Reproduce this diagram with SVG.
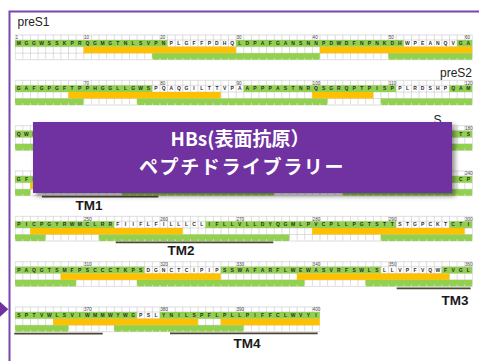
<svg xmlns="http://www.w3.org/2000/svg" width="479" height="361" viewBox="0 0 479 361">
<defs>
<pattern id="vg" x="14.7" y="0" width="7.62" height="30" patternUnits="userSpaceOnUse"><rect width="0.6" height="30" fill="#c8c8c8"/></pattern>
<pattern id="tk" x="14.7" y="0" width="7.62" height="30" patternUnits="userSpaceOnUse"><rect width="0.7" height="30" fill="#eef5e4"/></pattern>
<filter id="sh" x="-5%" y="-10%" width="115%" height="130%"><feDropShadow dx="3" dy="3" stdDeviation="2.5" flood-color="#000" flood-opacity="0.45"/></filter>
</defs>
<style>
.grid{fill:url(#vg)}
.hl{stroke:#c8c8c8;stroke-width:0.6;fill:none}
.g{fill:#92D050}
.o{fill:#FFC000}
.tk{fill:url(#tk)}
.res{font-family:"Liberation Sans",Arial,sans-serif;font-size:5px;font-weight:bold;fill:#2e2e2e;text-anchor:middle}
.num{font-family:"Liberation Sans",Arial,sans-serif;font-size:4.6px;fill:#444}
.lbl{font-family:"Liberation Sans",Arial,sans-serif;font-size:12px;fill:#222}
.tm{font-family:"Liberation Sans",Arial,sans-serif;font-size:13.5px;font-weight:bold;fill:#1a1a1a;text-anchor:middle}
.tml{stroke:#4a4535;stroke-width:1.6;fill:none}
.ban{font-family:"Noto Sans CJK JP","Noto Sans",sans-serif;font-weight:bold;fill:#fff;text-anchor:middle;font-size:19px}
</style>
<rect width="479" height="361" fill="#fff"/>
<path d="M9.5 361V11.5H479" stroke="#7a45ad" stroke-width="2" fill="none"/>
<polygon points="0,301.7 8.3,309.2 0,316.7" fill="#7030A0"/>

<g id="row1" transform="translate(0,35)">
<rect class="grid" x="14.7" width="458.1" height="24.7"/>
<path class="hl" d="M15 0H472.2M15 5H472.2M15 11.7H472.2M15 18.2H472.2M15 24.7H472.2"/>
<rect class="g" x="15" y="5" width="152.4" height="6.7"/><rect class="g" x="235.98" y="5" width="167.64" height="6.7"/><rect class="g" x="456.96" y="5" width="15.24" height="6.7"/>
<rect class="o" x="83.58" y="11.7" width="152.4" height="6.5"/><rect class="o" x="319.8" y="11.7" width="152.4" height="6.5"/>
<rect class="g" x="152.16" y="18.2" width="167.64" height="6.5"/><rect class="g" x="388.38" y="18.2" width="83.82" height="6.5"/>
<rect class="tk" x="14.7" y="23" width="458.1" height="1.7"/>
<text class="res" y="10.2" x="18.81 26.43 34.05 41.67 49.29 56.91 64.53 72.15 79.77 87.39 95.01 102.63 110.25 117.87 125.49 133.11 140.73 148.35 155.97 163.59 171.21 178.83 186.45 194.07 201.69 209.31 216.93 224.55 232.17 239.79 247.41 255.03 262.65 270.27 277.89 285.51 293.13 300.75 308.37 315.99 323.61 331.23 338.85 346.47 354.09 361.71 369.33 376.95 384.57 392.19 399.81 407.43 415.05 422.67 430.29 437.91 445.53 453.15 460.77 468.39">MGGWSSKPRQGMGTNLSVPNPLGFFPDHQLDPAFGANSNNPDWDFNPNKDHWPEANQVGA</text>
<text class="num" y="4.3"><tspan x="15.6">1</tspan><tspan x="84">10</tspan><tspan x="160.2">20</tspan><tspan x="236.4">30</tspan><tspan x="312.6">40</tspan><tspan x="388.8">50</tspan><tspan x="465">60</tspan></text>
</g>

<g id="row2" transform="translate(0,80.3)">
<rect class="grid" x="14.7" width="458.1" height="24.7"/>
<path class="hl" d="M15 0H472.2M15 5H472.2M15 11.7H472.2M15 18.2H472.2M15 24.7H472.2"/>
<rect class="g" x="15" y="5" width="137.16" height="6.7"/><rect class="g" x="243.6" y="5" width="152.4" height="6.7"/><rect class="g" x="449.34" y="5" width="22.86" height="6.7"/>
<rect class="o" x="68.34" y="11.7" width="152.4" height="6.5"/><rect class="o" x="312.18" y="11.7" width="60.96" height="6.5"/>
<rect class="g" x="15" y="18.2" width="68.58" height="6.5"/><rect class="g" x="136.92" y="18.2" width="190.5" height="6.5"/><rect class="g" x="380.76" y="18.2" width="91.44" height="6.5"/>
<rect class="tk" x="14.7" y="23" width="458.1" height="1.7"/>
<text class="res" y="10.2" x="18.81 26.43 34.05 41.67 49.29 56.91 64.53 72.15 79.77 87.39 95.01 102.63 110.25 117.87 125.49 133.11 140.73 148.35 155.97 163.59 171.21 178.83 186.45 194.07 201.69 209.31 216.93 224.55 232.17 239.79 247.41 255.03 262.65 270.27 277.89 285.51 293.13 300.75 308.37 315.99 323.61 331.23 338.85 346.47 354.09 361.71 369.33 376.95 384.57 392.19 399.81 407.43 415.05 422.67 430.29 437.91 445.53 453.15 460.77 468.39">GAFGPGFTPPHGGLLGWSPQAQGILTTVPAAPPPASTNRQSGRQPTPISPPLRDSHPQAM</text>
<text class="num" y="4.3"><tspan x="84">70</tspan><tspan x="160.2">80</tspan><tspan x="236.4">90</tspan><tspan x="312.6">100</tspan><tspan x="388.8">110</tspan><tspan x="465">120</tspan></text>
</g>

<g id="row3" transform="translate(0,125.7)">
<rect class="grid" x="14.7" width="458.1" height="24.7"/>
<path class="hl" d="M15 0H472.2M15 5H472.2M15 11.7H472.2M15 18.2H472.2M15 24.7H472.2"/>
<rect class="g" x="15" y="5" width="91.44" height="6.7"/><rect class="g" x="388.38" y="5" width="83.82" height="6.7"/>
<rect class="o" x="159.78" y="11.7" width="198.12" height="6.5"/>
<rect class="g" x="15" y="18.2" width="76.2" height="6.5"/><rect class="g" x="235.98" y="18.2" width="236.22" height="6.5"/>
<rect class="tk" x="14.7" y="23" width="458.1" height="1.7"/>
<text class="res" y="10.2" x="18.81 26.43 34.05">QWN</text>
<text class="res" y="10.2" x="460.77 468.39">TS</text>
<text class="num" y="4.3" x="465">180</text>
</g>

<g id="row4" transform="translate(0,171)">
<rect class="grid" x="14.7" width="458.1" height="24.7"/>
<path class="hl" d="M15 0H472.2M15 5H472.2M15 11.7H472.2M15 18.2H472.2M15 24.7H472.2"/>
<rect class="g" x="15" y="5" width="167.64" height="6.7"/><rect class="g" x="243.6" y="5" width="228.6" height="6.7"/>
<rect class="o" x="30.24" y="11.7" width="152.4" height="6.5"/><rect class="o" x="258.84" y="11.7" width="152.4" height="6.5"/>
<rect class="g" x="15" y="18.2" width="15.24" height="6.5"/><rect class="g" x="121.68" y="18.2" width="152.4" height="6.5"/><rect class="g" x="342.66" y="18.2" width="129.54" height="6.5"/>
<rect class="tk" x="14.7" y="23" width="458.1" height="1.7"/>
<text class="res" y="10.2" x="18.81 26.43 34.05">GFL</text>
<text class="res" y="10.2" x="460.77 468.39">CP</text>
<text class="num" y="4.3" x="465">240</text>
</g>

<g id="row5" transform="translate(0,216.3)">
<rect class="grid" x="14.7" width="458.1" height="24.7"/>
<path class="hl" d="M15 0H472.2M15 5H472.2M15 11.7H472.2M15 18.2H472.2M15 24.7H472.2"/>
<rect class="g" x="15" y="5" width="99.06" height="6.7"/><rect class="g" x="205.5" y="5" width="190.5" height="6.7"/><rect class="g" x="449.34" y="5" width="22.86" height="6.7"/>
<rect class="o" x="30.24" y="11.7" width="152.4" height="6.5"/><rect class="o" x="312.18" y="11.7" width="152.4" height="6.5"/>
<rect class="g" x="15" y="18.2" width="30.48" height="6.5"/><rect class="g" x="98.82" y="18.2" width="190.5" height="6.5"/><rect class="g" x="380.76" y="18.2" width="91.44" height="6.5"/>
<rect class="tk" x="14.7" y="23" width="458.1" height="1.7"/>
<text class="res" y="10.2" x="18.81 26.43 34.05 41.67 49.29 56.91 64.53 72.15 79.77 87.39 95.01 102.63 110.25 117.87 125.49 133.11 140.73 148.35 155.97 163.59 171.21 178.83 186.45 194.07 201.69 209.31 216.93 224.55 232.17 239.79 247.41 255.03 262.65 270.27 277.89 285.51 293.13 300.75 308.37 315.99 323.61 331.23 338.85 346.47 354.09 361.71 369.33 376.95 384.57 392.19 399.81 407.43 415.05 422.67 430.29 437.91 445.53 453.15 460.77 468.39">PICPGYRWMCLRRFIIFLFILLLCLIFLLVLLDYQGMLPVCPLLPGTSTTSTGPCKTCTI</text>
<text class="num" y="4.3"><tspan x="84">250</tspan><tspan x="160.2">260</tspan><tspan x="236.4">270</tspan><tspan x="312.6">280</tspan><tspan x="388.8">290</tspan><tspan x="465">300</tspan></text>
</g>

<g id="row6" transform="translate(0,261.7)">
<rect class="grid" x="14.7" width="458.1" height="24.7"/>
<path class="hl" d="M15 0H472.2M15 5H472.2M15 11.7H472.2M15 18.2H472.2M15 24.7H472.2"/>
<rect class="g" x="15" y="5" width="129.54" height="6.7"/><rect class="g" x="220.74" y="5" width="160.02" height="6.7"/><rect class="g" x="441.72" y="5" width="30.48" height="6.7"/>
<rect class="o" x="60.72" y="11.7" width="160.02" height="6.5"/><rect class="o" x="296.94" y="11.7" width="152.4" height="6.5"/>
<rect class="g" x="15" y="18.2" width="60.96" height="6.5"/><rect class="g" x="136.92" y="18.2" width="167.64" height="6.5"/><rect class="g" x="365.52" y="18.2" width="106.68" height="6.5"/>
<rect class="tk" x="14.7" y="23" width="458.1" height="1.7"/>
<text class="res" y="10.2" x="18.81 26.43 34.05 41.67 49.29 56.91 64.53 72.15 79.77 87.39 95.01 102.63 110.25 117.87 125.49 133.11 140.73 148.35 155.97 163.59 171.21 178.83 186.45 194.07 201.69 209.31 216.93 224.55 232.17 239.79 247.41 255.03 262.65 270.27 277.89 285.51 293.13 300.75 308.37 315.99 323.61 331.23 338.85 346.47 354.09 361.71 369.33 376.95 384.57 392.19 399.81 407.43 415.05 422.67 430.29 437.91 445.53 453.15 460.77 468.39">PAQGTSMFPSCCCTKPSDGNCTCIPIPSSWAFARFLWEWASVRFSWLSLLVPFVQWFVGL</text>
<text class="num" y="4.3"><tspan x="84">310</tspan><tspan x="160.2">320</tspan><tspan x="236.4">330</tspan><tspan x="312.6">340</tspan><tspan x="388.8">350</tspan><tspan x="465">360</tspan></text>
</g>

<g id="row7" transform="translate(0,307)">
<rect class="grid" x="14.7" width="305.4" height="24.7"/>
<path class="hl" d="M15 0H319.8M15 5H319.8M15 11.7H319.8M15 18.2H319.8M15 24.7H319.8"/>
<rect class="g" x="15" y="5" width="121.92" height="6.7"/><rect class="g" x="159.78" y="5" width="160.02" height="6.7"/>
<rect class="o" x="53.1" y="11.7" width="144.78" height="6.5"/><rect class="o" x="220.74" y="11.7" width="99.06" height="6.5"/>
<rect class="g" x="15" y="18.2" width="53.34" height="6.5"/><rect class="g" x="114.06" y="18.2" width="129.54" height="6.5"/>
<rect class="tk" x="14.7" y="23" width="305.4" height="1.7"/>
<text class="res" y="10.2" x="18.81 26.43 34.05 41.67 49.29 56.91 64.53 72.15 79.77 87.39 95.01 102.63 110.25 117.87 125.49 133.11 140.73 148.35 155.97 163.59 171.21 178.83 186.45 194.07 201.69 209.31 216.93 224.55 232.17 239.79 247.41 255.03 262.65 270.27 277.89 285.51 293.13 300.75 308.37 315.99">SPTVWLSVIWMMWYWGPSLYNILSPFLPLLPIFFCLWVYI</text>
<text class="num" y="4.3"><tspan x="84">370</tspan><tspan x="160.2">380</tspan><tspan x="236.4">390</tspan><tspan x="312.6">400</tspan></text>
</g>

<g id="labels">
<text class="lbl" x="17.5" y="26">preS1</text>
<text class="lbl" x="472" y="77" text-anchor="end">preS2</text>
<text class="lbl" x="433.5" y="124.2">S</text>
</g>

<g id="tm-lines">
<path class="tml" d="M42 196.6H158.3"/>
<path class="tml" d="M115.7 242.4H273.3"/>
<path class="tml" d="M396.7 288.4H470.7"/>
<path class="tml" d="M14.3 333.6H102.7"/>
<path class="tml" d="M170 333.4H317.7"/>
</g>
<g id="tm-labels">
<text class="tm" x="89" y="210">TM1</text>
<text class="tm" x="181" y="255">TM2</text>
<text class="tm" x="455" y="305">TM3</text>
<text class="tm" x="247" y="348">TM4</text>
</g>

<g id="banner">
<rect x="33" y="122" width="419" height="71" fill="#7030A0" filter="url(#sh)"/>
<text class="ban" x="240" y="146">HBs(表面抗原）</text>
<text class="ban" x="242" y="174" letter-spacing="1.6">ペプチドライブラリー</text>
</g>
</svg>
